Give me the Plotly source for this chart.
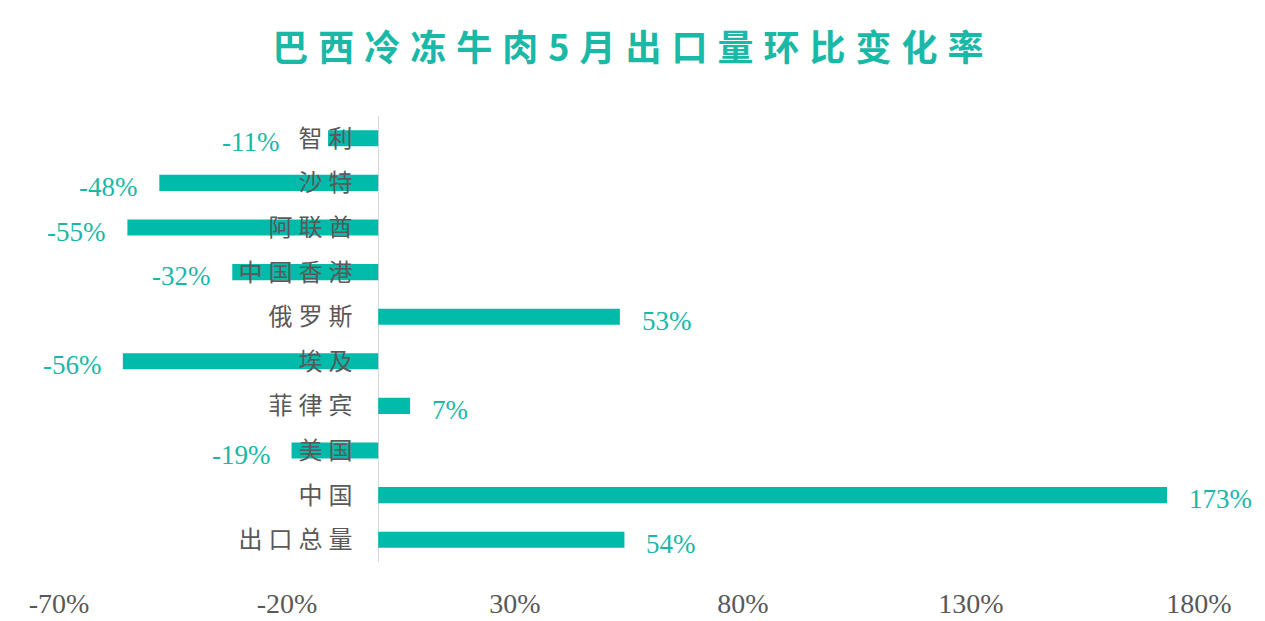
import plotly.graph_objects as go

# data (month-on-month change, %)
regions = ["智利", "沙特", "阿联酋", "中国香港", "俄罗斯", "埃及", "菲律宾", "美国", "中国", "出口总量"]
change_pct = [-11, -48, -55, -32, 53, -56, 7, -19, 173, 54]
x_ticks = [-70, -20, 30, 80, 130, 180]
title_text = "巴西冷冻牛肉5月出口量环比变化率"

teal = "#00BBAA"
grey_text = "#595959"

fig = go.Figure()
fig.add_trace(go.Bar(
    x=change_pct,
    y=regions,
    orientation="h",
    marker=dict(color=teal, line=dict(width=0)),
    hoverinfo="x+y",
))

# value labels just past the end of each bar; small negatives are pushed
# left so they don't sit on the region names
for r, v in zip(regions, change_pct):
    xa = v if v > 0 else min(v, -17)
    fig.add_annotation(
        x=xa, y=r, text=f"{v}%", showarrow=False,
        xanchor="left" if v > 0 else "right",
        xshift=20 if v > 0 else -20, yshift=-4,
        font=dict(family="Liberation Serif", size=27, color="#17B8A8"),
    )

# the page adds an 8px body margin, so margins are offset by that
fig.update_layout(
    width=1265, height=621,
    paper_bgcolor="white", plot_bgcolor="white",
    margin=dict(l=51, r=74, t=108, b=67, autoexpand=False),
    bargap=0.64,
    showlegend=False,
    title=dict(
        text=f'<span style="letter-spacing:10px">{title_text}</span>',
        x=0.494, xanchor="center", y=0.935, yanchor="middle",
        font=dict(family="Noto Sans CJK SC", size=36, color="#1AB8A6", weight="bold"),
    ),
)

fig.update_xaxes(
    range=[-70, 180],
    tickvals=x_ticks,
    ticktext=[f"{t}%" for t in x_ticks],
    showgrid=False,
    zeroline=True, zerolinecolor="#D9D9D9", zerolinewidth=1,
    showline=False, automargin=False,
    ticks="outside", ticklen=16, tickcolor="rgba(0,0,0,0)",
    tickfont=dict(family="Liberation Serif", size=28, color=grey_text),
)

fig.update_yaxes(
    autorange="reversed",
    anchor="free", position=0.28,
    tickmode="array",
    tickvals=regions,
    ticktext=[f'<span style="letter-spacing:6px">{r}</span>' for r in regions],
    showgrid=False, showline=False, zeroline=False, automargin=False,
    ticks="outside", ticklen=15, tickcolor="rgba(0,0,0,0)",
    tickfont=dict(family="Noto Sans CJK SC", size=24, color=grey_text),
)

fig.write_html("out.html")
